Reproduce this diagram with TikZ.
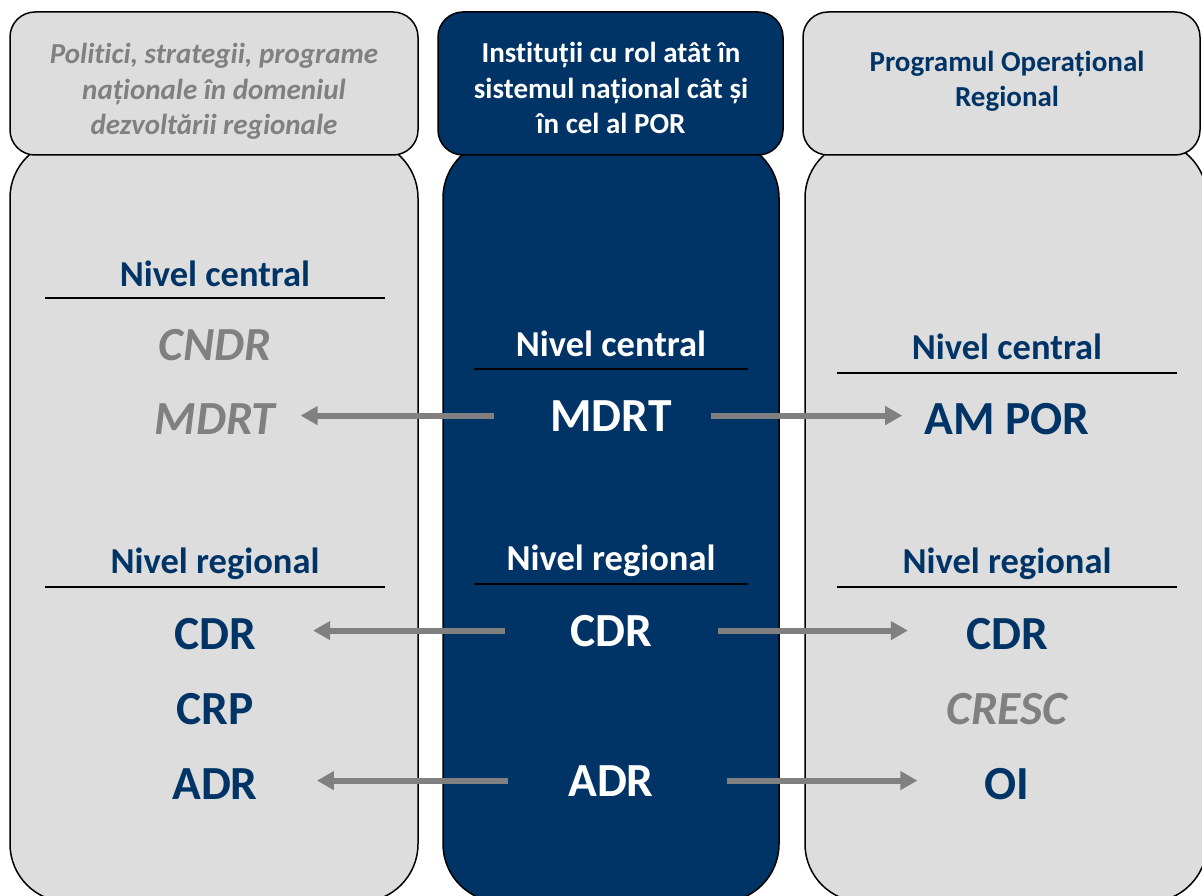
\documentclass[tikz,border=0pt]{standalone}
\usepackage{fontspec}
\setmainfont[Ligatures=NoCommon]{Carlito}
\usetikzlibrary{arrows.meta}
\definecolor{porblue}{RGB}{0,51,102}
\definecolor{porgray}{RGB}{221,221,221}
\definecolor{txtgray}{RGB}{128,128,128}
\tikzset{
  colbox/.style={draw=black,line width=1.5pt,rounded corners=58pt},
  headbox/.style={draw=black,line width=1.5pt,rounded corners=25pt},
  hd/.style={font=\bfseries\fontsize{29}{35.5}\selectfont,align=center,anchor=base,inner sep=0pt},
  lvl/.style={font=\bfseries\fontsize{36.5}{40}\selectfont,anchor=base,inner sep=0pt},
  inst/.style={font=\bfseries\fontsize{47.5}{52}\selectfont,anchor=base,inner sep=0pt},
  arr/.style={draw=txtgray,line width=6pt,-{Triangle[length=17pt,width=18pt]}},
}

\begin{document}
\begin{tikzpicture}[x=1pt,y=-1pt]
\useasboundingbox (0,0) rectangle (1202,896);
% columns
\filldraw[colbox,fill=porgray] (10,140) rectangle (418,902);
\filldraw[colbox,fill=porblue] (443,140) rectangle (779,902);
\filldraw[colbox,fill=porgray] (805,140) rectangle (1207,902);
% headers
\filldraw[headbox,fill=porgray] (10,12) rectangle (418,155);
\filldraw[headbox,fill=porblue] (438,12) rectangle (783,155);
\filldraw[headbox,fill=porgray] (803,12) rectangle (1200,155);
\node[hd,text=txtgray] (lhead) at (214,135) {\itshape Politici, strategii, programe\\ \itshape naționale în domeniul\\ \itshape dezvoltării regionale};
\node[hd,text=white] (mhead) at (611,134) {Instituții cu rol atât în\\ sistemul național cât și\\ în cel al POR};
\node[hd,text=porblue] (rhead) at (1007,107) {Programul Operațional\\ Regional};
% left column
\node[lvl,text=porblue] (lcen) at (215,286) {Nivel central};
\node[inst,text=txtgray] (lCNDR) at (215,360) {\itshape CNDR};
\node[inst,text=txtgray] (lMDRT) at (215,434) {\itshape MDRT};
\node[lvl,text=porblue] (lreg) at (215,573) {Nivel regional};
\node[inst,text=porblue] (lCDR) at (215,649) {CDR};
\node[inst,text=porblue] (lCRP) at (215,724) {CRP};
\node[inst,text=porblue] (lADR) at (215,799) {ADR};
% middle column
\node[lvl,text=white] (mcen) at (611,356) {Nivel central};
\node[inst,text=white] (mMDRT) at (611,431) {MDRT};
\node[lvl,text=white] (mreg) at (611,570) {Nivel regional};
\node[inst,text=white] (mCDR) at (611,646) {CDR};
\node[inst,text=white] (mADR) at (611,796) {ADR};
% right column
\node[lvl,text=porblue] (rcen) at (1007,359) {Nivel central};
\node[inst,text=porblue] (rAMPOR) at (1007,434) {AM POR};
\node[lvl,text=porblue] (rreg) at (1007,573) {Nivel regional};
\node[inst,text=porblue] (rCDR) at (1007,649) {CDR};
\node[inst,text=txtgray] (rCRESC) at (1007,724) {\itshape CRESC};
\node[inst,text=porblue] (rOI) at (1007,799) {OI};
% underlines
\draw[line width=2pt] (45,298) -- (385,298) (45,587) -- (385,587);
\draw[line width=2pt] (474,369) -- (748,369) (474,584) -- (748,584);
\draw[line width=2pt] (837,373) -- (1177,373) (837,587) -- (1177,587);
% arrows
\draw[arr] ([xshift=-56pt]mMDRT.west) -- ([xshift=25pt]lMDRT.east |- mMDRT.west);
\draw[arr] ([xshift=39pt]mMDRT.east) -- ([xshift=-22pt]rAMPOR.west |- mMDRT.east);
\draw[arr] ([xshift=-65pt]mCDR.west) -- ([xshift=57pt]lCDR.east |- mCDR.west);
\draw[arr] ([xshift=66pt]mCDR.east) -- ([xshift=-58pt]rCDR.west |- mCDR.east);
\draw[arr] ([xshift=-60pt]mADR.west) -- ([xshift=59pt]lADR.east |- mADR.west);
\draw[arr] ([xshift=73pt]mADR.east) -- ([xshift=-67pt]rOI.west |- mADR.east);
\end{tikzpicture}
\end{document}
